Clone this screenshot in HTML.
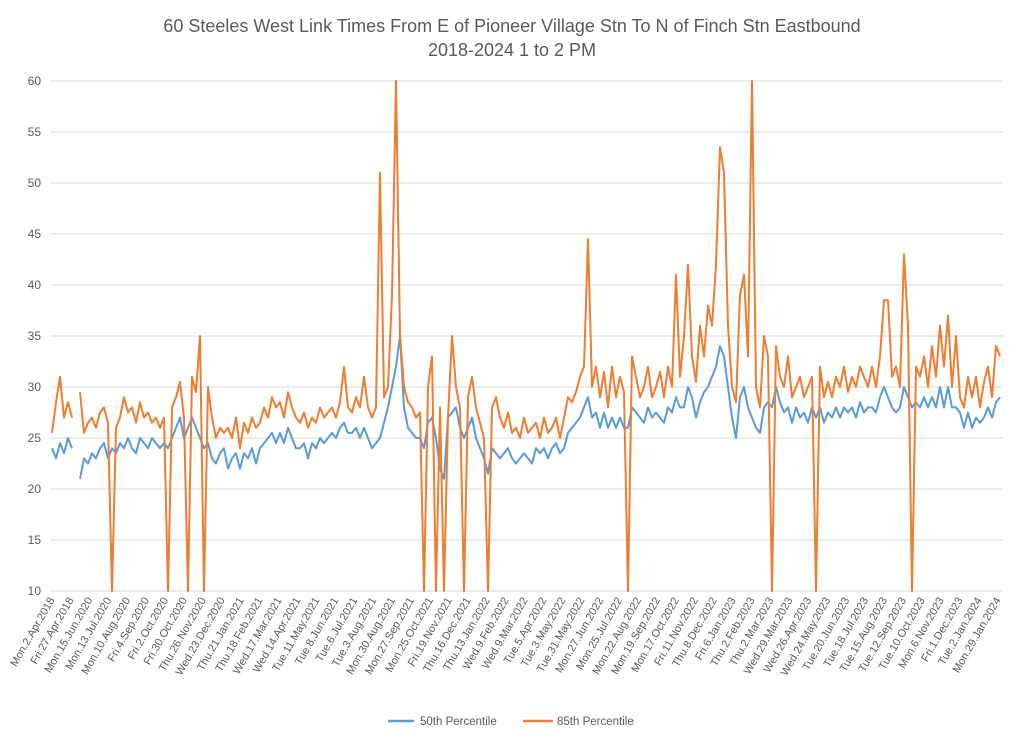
<!DOCTYPE html>
<html><head><meta charset="utf-8"><style>
body{margin:0;background:#fff;}
svg text{font-family:"Liberation Sans",sans-serif;fill:#595959;}
</style></head><body>
<svg id="chart" width="1024" height="740" xmlns="http://www.w3.org/2000/svg">
<text x="512" y="32" text-anchor="middle" font-size="18">60 Steeles West Link Times From E of Pioneer Village Stn To N of Finch Stn Eastbound</text>
<text x="512" y="56" text-anchor="middle" font-size="18">2018-2024 1 to 2 PM</text>
<g id="grid"></g>
<g id="ylabels"></g>
<g id="xlabels"></g>
<g id="series"></g>
<g>
<line x1="388" y1="721" x2="414" y2="721" stroke="#5B9BD5" stroke-width="2.5"/>
<text x="420" y="725" font-size="11.5">50th Percentile</text>
<line x1="523" y1="721" x2="553" y2="721" stroke="#ED7D31" stroke-width="2.5"/>
<text x="557" y="725" font-size="11.5">85th Percentile</text>
</g>
</svg>
<script>
const yTicks=[10,15,20,25,30,35,40,45,50,55,60];
const xTickLabels=["Mon.2.Apr.2018","Fri.27.Apr.2018","Mon.15.Jun.2020","Mon.13.Jul.2020","Mon.10.Aug.2020","Fri.4.Sep.2020","Fri.2.Oct.2020","Fri.30.Oct.2020","Thu.26.Nov.2020","Wed.23.Dec.2020","Thu.21.Jan.2021","Thu.18.Feb.2021","Wed.17.Mar.2021","Wed.14.Apr.2021","Tue.11.May.2021","Tue.8.Jun.2021","Tue.6.Jul.2021","Tue.3.Aug.2021","Mon.30.Aug.2021","Mon.27.Sep.2021","Mon.25.Oct.2021","Fri.19.Nov.2021","Thu.16.Dec.2021","Thu.13.Jan.2022","Wed.9.Feb.2022","Wed.9.Mar.2022","Tue.5.Apr.2022","Tue.3.May.2022","Tue.31.May.2022","Mon.27.Jun.2022","Mon.25.Jul.2022","Mon.22.Aug.2022","Mon.19.Sep.2022","Mon.17.Oct.2022","Fri.11.Nov.2022","Thu.8.Dec.2022","Fri.6.Jan.2023","Thu.2.Feb.2023","Thu.2.Mar.2023","Wed.29.Mar.2023","Wed.26.Apr.2023","Wed.24.May.2023","Tue.20.Jun.2023","Tue.18.Jul.2023","Tue.15.Aug.2023","Tue.12.Sep.2023","Tue.10.Oct.2023","Mon.6.Nov.2023","Fri.1.Dec.2023","Tue.2.Jan.2024","Mon.29.Jan.2024"];
const p85=[25.5,28.5,31,27,28.5,27,null,29.5,25.5,26.5,27,26,27.5,28,26.5,10,26,27,29,27.5,28,26.5,28.5,27,27.5,26.5,27,26,27,10,28,29,30.5,27,10,31,29.5,35,10,30,27,25,26,25.5,26,25,27,24,26.5,25.5,27,26,26.5,28,27,29,28,28.5,27,29.5,28,27,26.5,27.5,26,27,26.5,28,27,27.5,28,27,28.5,32,28,27.5,29,28,31,28,27,28,51,29,30,39,60,35,30,28.5,28,27,27.5,10,30,33,10,28,10,27,35,30,28,10,29,31,28,26.5,25,10,28,29,27,26,27.5,25.5,26,25,27,25.5,26,26.5,25,27,25.5,26,27,25,27,29,28.5,29.5,31,32,44.5,30,32,29,31.5,28,32,29,31,29.5,10,33,31,29,30,32,29,30,31.5,29,32,30,41,31,35,42,33,30.5,36,33,38,36,42,53.5,51,36,30,28.5,39,41,33,60,30,28,35,33,10,34,31,30,33,29,30,31,29,30,31,10,32,29,30.5,29,31,30,32,29.5,31,30,32,31,30,32,30,33,38.5,38.5,31,32,30,43,36,10,32,31,33,30,34,31,36,32,37,30,35,29,28,31,29,31,28,30.5,32,29,34,33];
const p50=[24,23,24.5,23.5,25,24,null,21,23,22.5,23.5,23,24,24.5,23,24,23.5,24.5,24,25,24,23.5,25,24.5,24,25,24.5,24,24.5,24,25,26,27,25,26,27,26,25,24,24.5,23,22.5,23.5,24,22,23,23.5,22,23.5,23,24,22.5,24,24.5,25,25.5,24.5,25.5,24.5,26,25,24,24,24.5,23,24.5,24,25,24.5,25,25.5,25,26,26.5,25.5,25.5,26,25,26,25,24,24.5,25,26.5,28,30,32,35,28,26,25.5,25,25,24,26.5,27,25,22,21,27,27.5,28,26,25,26,27,25,24,23,21.5,24,23.5,23,23.5,24,23,22.5,23,23.5,23,22.5,24,23.5,24,23,24,24.5,23.5,24,25.5,26,26.5,27,28,29,27,27.5,26,27.5,26,27,26,27,26,26,28,27.5,27,26.5,28,27,27.5,27,26.5,28,27.5,29,28,28,30,29,27,28.5,29.5,30,31,32,34,33,30,27,25,29,30,28,27,26,25.5,28,28.5,28,30,28.5,27.5,28,26.5,28,27,27.5,26.5,28,27,28,26.5,27.5,27,28,27,28,27.5,28,27,28.5,27.5,28,28,27.5,29,30,29,28,27.5,28,30,29,28,28.5,28,29,28,29,28,30,28,30,28,28,27.5,26,27.5,26,27,26.5,27,28,27,28.5,29];

const NS="http://www.w3.org/2000/svg";
const X0=52,X1=1000,Y10=591,Y60=81;
function xScale(i){return X0+i*(X1-X0)/(p85.length-1);}
function yScale(v){return Y10-(v-10)*(Y10-Y60)/50;}
function mk(tag,attrs,parent){const e=document.createElementNS(NS,tag);for(const k in attrs)e.setAttribute(k,attrs[k]);parent.appendChild(e);return e;}

const grid=document.getElementById('grid'),yl=document.getElementById('ylabels'),xl=document.getElementById('xlabels'),sg=document.getElementById('series');
yTicks.forEach(t=>{
  const y=yScale(t);
  const l=mk('line',{x1:50,x2:1003,y1:y,y2:y,stroke:'#d9d9d9','stroke-width':1},grid);
  
  
  const tx=mk('text',{x:41,y:y+4,'text-anchor':'end','font-size':12},yl);
  tx.textContent=t;
  
  
});
const step=(1001-55)/(xTickLabels.length-1);
xTickLabels.forEach((s,k)=>{
  const x=55+k*step;
  const tx=mk('text',{x:0,y:0,'text-anchor':'end','font-size':11,transform:'translate('+x+',600) rotate(-60)'},xl);
  tx.textContent=s;
  
  
});
function pathFor(arr){
  let d='',pen=false;
  arr.forEach((v,i)=>{
    if(v===null){pen=false;return;}
    d+=(pen?'L':'M')+xScale(i).toFixed(1)+','+yScale(v).toFixed(1);pen=true;
  });
  return d;
}
const s50=mk('path',{d:pathFor(p50),fill:'none',stroke:'#5B9BD5','stroke-width':2,'stroke-linejoin':'round'},sg);


const s85=mk('path',{d:pathFor(p85),fill:'none',stroke:'#ED7D31','stroke-width':2,'stroke-linejoin':'round'},sg);


</script>
</body></html>
